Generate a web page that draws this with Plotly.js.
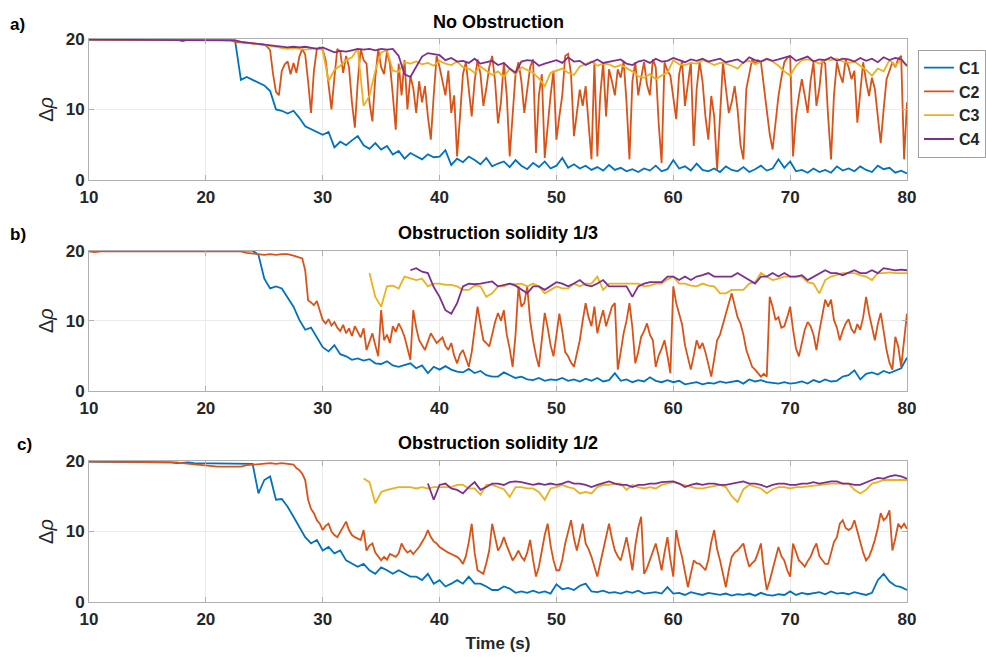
<!DOCTYPE html>
<html>
<head>
<meta charset="utf-8">
<script src="https://cdn.plot.ly/plotly-3.0.1.min.js"></script>
<style>html,body{margin:0;padding:0;background:#fff;}#chart{width:986px;height:657px;}</style>
</head>
<body>
<div id="chart"></div>
<script>
// ---------- DATA ----------
const seriesNames = ["C1", "C2", "C3", "C4"];
const panelTitles = ["No Obstruction", "Obstruction solidity 1/3", "Obstruction solidity 1/2"];
const panelLetters = ["a)", "b)", "c)"];
const coarseStep = 0.5;   // s, sampling of C1, C3, C4 and of the calm start of C2
const fineStep = 0.25;    // s, sampling of the fluctuating part of C2

// ===== Panel a) No Obstruction =====
const aStart = [10, 10, 10, 10];
const aC1 = [
19.9,19.9,19.8,19.9,19.9,19.9,19.8,19.9,19.9,19.9,
19.8,19.9,19.9,19.8,19.9,19.9,19.7,19.9,19.9,19.9,
19.9,19.8,19.9,19.8,19.9,19.8,14.2,14.6,14.2,13.8,
13.4,12.6,10.0,9.8,9.4,9.8,8.8,7.6,7.2,6.8,
6.4,6.8,4.6,5.4,4.9,5.6,6.2,4.9,4.4,5.2,
4.3,4.8,3.6,4.1,3.0,3.8,3.4,2.9,3.6,3.2,
3.3,4.2,2.1,3.0,2.5,3.3,2.8,2.2,3.1,1.9,
2.3,2.6,1.8,2.8,2.0,1.5,2.4,1.8,2.6,1.6,
2.0,3.1,1.7,2.2,1.6,2.0,1.4,1.8,1.3,2.1,
1.4,1.7,1.2,1.5,1.1,1.6,1.3,2.0,1.2,1.5,
2.8,1.6,1.9,1.3,2.3,1.4,1.2,1.6,1.1,1.9,
1.4,1.2,1.8,1.1,1.5,2.0,1.3,1.6,2.9,1.7,
2.6,1.2,1.4,1.0,1.6,1.1,1.4,1.0,1.9,1.3,
1.6,1.2,1.9,1.4,1.1,2.0,1.5,1.7,1.0,1.3,
0.9];
// C2: calm part 10–25 s every 0.5 s, then 25.25–80 s every 0.25 s
const aC2calm = [
19.9,19.9,19.9,19.8,19.9,19.9,19.9,19.9,19.8,19.9,
19.9,19.9,19.8,19.9,19.9,19.9,19.9,19.8,19.9,19.9,
19.9,19.9,19.9,19.8,19.9,19.6,19.5,19.5,19.4,19.3,
19.2];
const aC2fine = [
18.9,18.4,15.0,12.5,12.0,15.5,16.4,16.8,15.0,16.6,15.2,17.5,18.6,17.8,14.0,9.5,15.5,18.6,18.8,18.5,
17.0,13.0,10.0,14.5,18.6,18.2,15.2,17.6,16.0,11.0,7.4,14.0,18.6,17.0,16.5,11.0,8.3,14.5,18.6,16.0,
15.0,18.2,16.5,12.0,7.1,16.5,12.0,17.0,10.0,14.8,13.0,9.5,14.0,11.0,13.3,9.0,5.7,12.0,17.6,16.0,
14.0,12.0,15.5,9.5,12.0,3.3,9.0,15.0,16.7,12.5,9.0,14.0,17.1,15.0,10.5,13.0,16.0,17.6,14.0,8.0,
11.0,16.7,12.0,3.3,9.0,15.0,16.7,14.0,9.5,13.0,16.0,17.1,3.8,12.0,15.0,3.1,8.0,12.0,15.5,5.7,
9.0,12.0,17.6,17.9,15.0,6.2,9.5,12.8,10.5,13.3,8.0,2.9,16.7,3.3,12.0,16.7,9.0,15.7,14.0,12.0,
15.7,14.5,16.9,11.0,2.9,14.0,16.7,12.0,14.5,16.7,13.5,12.0,17.1,16.0,8.0,2.4,16.7,15.5,14.8,12.0,
8.6,15.0,16.9,10.5,14.0,16.7,4.8,12.9,16.7,14.0,9.0,5.7,11.9,9.0,1.4,9.0,16.7,13.0,9.5,11.0,
13.3,10.0,5.0,2.9,12.9,15.0,17.1,16.5,17.0,16.7,13.0,9.5,6.5,4.3,8.0,11.9,14.5,16.7,17.3,17.6,
3.3,9.0,11.9,14.3,12.0,9.5,14.0,16.7,10.5,13.0,17.1,16.5,9.0,2.9,12.0,16.7,15.0,13.8,17.1,16.0,
14.3,15.5,8.1,12.0,16.7,14.0,11.9,14.5,12.9,9.0,5.2,10.0,14.3,15.5,16.7,16.0,17.2,17.6,2.9,11.0];
const aC3 = [
19.9,19.9,19.9,19.9,19.9,19.9,19.9,19.9,19.9,19.9,
19.9,19.9,19.9,19.9,19.9,19.9,19.9,19.9,19.9,19.9,
19.9,19.9,19.9,19.9,19.9,19.8,19.6,19.5,19.4,19.3,
19.2,19.0,18.9,18.7,18.6,18.7,18.6,18.5,18.6,18.7,
18.4,14.0,15.6,16.2,17.0,17.4,18.6,10.5,11.9,15.5,
18.1,18.4,15.5,15.3,16.7,16.5,16.8,16.4,16.6,16.2,
16.9,16.5,16.3,16.8,16.0,15.8,15.2,16.1,15.5,14.9,
15.4,14.6,15.8,15.0,16.0,15.6,15.2,14.4,13.3,15.2,
15.5,15.8,15.2,14.9,16.1,16.5,16.8,16.2,16.5,16.4,
16.0,16.3,15.8,15.4,14.7,14.5,15.0,14.3,14.8,15.2,
17.0,16.4,16.3,16.6,16.5,17.0,16.7,16.3,16.6,16.5,
16.2,15.8,16.7,16.9,16.4,16.8,17.1,16.8,16.2,15.4,
14.8,16.2,17.0,17.1,16.9,16.5,17.1,17.0,17.2,16.8,
16.6,16.8,16.2,15.6,14.8,15.8,15.4,17.0,16.2,17.1,
16.1];
const aC4 = [
19.9,19.9,19.9,19.9,19.9,19.9,19.9,19.9,19.9,19.9,
19.9,19.9,19.9,19.8,19.9,19.9,19.9,19.9,19.9,19.9,
19.9,19.9,19.9,19.9,19.9,19.8,19.6,19.5,19.4,19.4,
19.3,19.2,19.1,19.0,18.8,18.9,18.8,18.9,18.7,18.6,
18.8,18.5,18.1,18.3,18.2,18.4,18.6,18.5,18.6,18.4,
18.6,18.5,18.6,17.6,15.0,14.6,16.0,17.5,18.0,17.8,
17.7,17.0,17.3,16.8,16.9,16.6,17.2,16.5,16.7,16.9,
16.3,16.6,15.8,15.2,16.8,17.0,16.9,16.2,16.5,16.8,
17.0,16.6,17.4,16.8,16.9,16.3,16.7,17.1,16.6,16.8,
16.9,17.1,16.5,16.3,16.8,17.0,16.6,17.2,16.8,16.9,
17.3,17.0,16.7,17.1,16.9,17.2,16.8,17.0,17.2,16.7,
16.9,17.1,16.6,17.4,17.0,16.8,17.2,16.9,17.1,17.3,
17.6,16.9,17.2,17.5,16.8,17.1,17.0,17.4,16.9,17.2,
17.1,16.8,17.3,16.9,17.2,16.7,17.4,17.0,17.3,17.1,
16.2];

// ===== Panel b) Obstruction solidity 1/3 =====
const bStart = [10, 10, 34, 37.5];
const bC1 = [
20.0,20.0,20.0,20.0,20.1,20.0,20.0,20.0,20.1,20.0,
20.0,20.0,20.1,20.0,20.0,20.0,20.1,20.0,20.0,20.0,
20.0,20.1,20.0,20.0,20.0,20.1,20.0,20.0,20.0,19.4,
16.0,14.6,14.9,14.6,13.2,12.0,10.1,8.7,9.0,7.6,
6.2,5.6,6.5,5.2,4.9,4.4,4.6,4.3,4.5,3.9,
3.8,4.2,3.6,3.4,3.7,3.9,3.2,3.6,2.5,3.4,
3.0,3.5,3.0,2.7,2.6,3.1,2.5,2.8,2.2,2.0,
2.0,2.6,2.2,1.8,2.0,1.6,1.5,1.8,1.4,1.6,
1.5,1.8,1.4,1.6,1.3,1.7,1.4,1.8,1.3,1.5,
2.5,1.4,1.6,1.2,1.5,1.3,1.9,1.4,1.2,1.5,
1.2,1.4,0.9,1.0,1.2,0.9,1.1,1.0,1.3,1.1,
1.2,1.4,1.0,1.6,1.3,1.5,1.2,1.1,1.0,1.2,
1.0,1.1,1.3,1.0,1.5,1.2,1.6,1.3,1.4,2.0,
2.2,2.9,1.6,2.4,2.6,2.3,2.8,2.5,2.9,3.2,
4.7];
// C2: calm part 10–28 s every 0.5 s, then 28.25–80 s every 0.25 s
const bC2calm = [
19.9,19.8,19.9,19.9,19.8,19.9,19.9,19.8,19.9,19.9,
19.8,19.9,19.9,19.8,19.9,19.9,19.8,19.9,19.9,19.8,
19.9,19.9,19.8,19.9,19.9,19.8,19.9,19.7,19.6,19.5,
19.4,19.5,19.4,19.5,19.5,19.3,19.0];
const bC2fine = [
18.9,17.2,12.9,12.6,12.2,12.8,11.5,10.1,
9.6,10.2,9.3,9.8,9.0,8.5,9.4,8.2,8.9,7.8,9.2,8.4,7.6,8.9,5.8,7.0,8.2,6.5,4.9,11.5,
7.2,8.0,6.8,9.2,8.4,9.6,8.8,7.7,6.0,4.4,11.5,9.0,7.2,6.5,5.8,7.0,8.2,7.5,6.8,7.2,
7.6,6.4,5.8,6.8,5.0,3.9,5.2,5.8,4.6,3.4,5.5,9.0,12.0,9.5,7.2,6.8,6.3,8.0,9.8,11.1,
10.0,11.5,8.0,6.0,3.4,8.0,14.9,12.0,12.5,14.9,10.0,7.2,5.0,3.4,7.0,11.1,9.0,6.5,4.9,8.0,
11.0,8.5,5.5,4.9,4.0,3.4,5.5,7.2,10.0,12.5,10.5,9.2,12.0,8.2,10.0,11.5,9.2,10.5,12.0,12.5,
3.0,5.5,8.2,10.0,12.5,9.0,3.9,5.5,7.7,8.5,9.6,8.0,7.2,3.4,5.0,6.0,7.2,5.0,2.5,14.9,
12.5,11.0,9.5,6.5,4.9,3.0,5.0,7.2,6.0,6.8,5.5,3.5,2.0,4.5,7.2,8.0,9.6,11.0,12.5,13.9,
12.0,10.5,9.6,8.0,5.8,4.5,3.4,3.0,2.5,2.0,2.4,2.0,13.4,12.0,10.1,10.5,9.0,9.2,10.5,12.0,
8.7,6.0,4.9,7.0,8.7,9.8,9.2,8.0,5.8,8.5,11.0,13.0,12.0,13.0,10.1,9.0,7.2,8.6,9.6,10.2,
8.8,8.2,9.5,8.7,10.5,13.4,11.0,9.0,7.2,9.5,11.1,8.5,5.8,4.0,3.0,7.7,6.3,3.4,7.5,11.0];
const bC3 = [
16.8,13.4,
12.0,14.9,15.0,14.6,16.3,16.0,15.8,16.0,14.9,15.3,
15.3,15.1,15.1,14.9,14.4,14.4,15.0,14.9,13.4,13.9,
14.9,14.9,15.3,15.2,15.3,14.9,15.3,14.9,13.9,14.4,
14.9,14.6,14.6,15.3,14.9,15.3,15.3,16.3,14.4,15.3,
15.3,15.3,15.3,15.3,15.3,14.9,15.0,15.3,15.3,15.9,
16.3,15.3,15.3,15.0,14.9,15.3,15.0,14.9,13.9,13.9,
14.4,14.4,14.4,15.3,15.5,16.8,16.3,15.8,16.0,16.3,
16.3,16.3,16.3,15.5,15.3,13.9,15.8,16.3,16.5,16.8,
16.8,16.8,16.5,16.3,15.8,16.8,16.8,16.9,16.8,16.8,
16.8];
const bC4 = [
17.2,17.5,17.0,16.8,14.8,
13.4,11.5,11.0,12.5,14.9,15.3,15.2,15.3,15.4,15.6,
14.9,15.1,15.3,15.0,14.4,13.9,14.9,14.9,14.4,14.9,
15.5,15.3,14.9,15.3,15.8,15.1,14.9,15.3,15.8,14.9,
14.9,14.9,14.9,13.4,14.9,15.3,15.5,15.5,15.5,16.3,
16.3,15.8,16.3,15.8,16.3,16.5,16.8,16.3,16.3,16.3,
16.3,16.8,16.3,15.8,15.3,16.3,16.3,16.8,16.3,16.8,
16.3,16.3,16.5,15.8,16.3,16.8,17.2,16.8,16.8,16.5,
16.8,17.2,16.8,16.8,17.2,16.8,17.5,17.3,17.2,17.3,
17.2];

// ===== Panel c) Obstruction solidity 1/2 =====
const cStart = [10, 10, 33.5, 39];
const cC1 = [
19.9,19.9,19.9,19.8,19.9,19.9,19.8,19.8,19.9,19.8,
19.8,19.8,19.8,19.8,19.8,19.7,19.8,19.8,19.7,19.7,
19.7,19.6,19.6,19.6,19.6,19.6,19.6,19.6,19.6,15.4,
17.3,17.8,14.5,14.6,13.5,12.1,10.7,9.2,8.3,8.8,
7.3,7.8,6.9,7.3,5.9,5.4,5.0,5.4,4.5,4.0,
4.9,4.5,4.0,4.5,4.0,3.6,3.6,3.1,4.0,2.6,
3.1,2.2,2.6,3.1,2.6,3.6,2.6,2.6,2.2,1.7,
1.7,2.2,1.9,1.3,1.5,1.3,1.6,1.3,1.5,1.2,
2.5,1.8,2.0,1.7,2.3,2.6,1.5,1.4,1.6,1.3,
1.4,1.2,1.5,1.3,1.6,1.2,1.3,1.4,1.2,2.1,
1.2,1.3,1.0,1.4,1.2,1.0,1.3,1.1,1.0,1.2,
0.9,1.1,1.0,1.2,0.9,1.3,1.0,0.9,1.1,1.0,
1.5,1.0,1.3,1.1,1.2,1.4,1.1,1.5,1.2,1.3,
1.1,1.4,1.2,1.0,1.3,3.1,4.0,2.9,2.3,2.1,
1.7];
// C2: calm part 10–27.5 s every 0.5 s, then 27.75–80 s every 0.25 s
const cC2calm = [
19.9,19.9,19.9,19.9,19.8,19.9,19.9,19.8,19.9,19.9,
19.8,19.9,19.8,19.8,19.8,19.8,19.7,19.6,19.5,19.5,
19.3,19.3,19.2,19.2,19.2,19.3,19.2,19.4,19.5,19.6,
19.7,19.7,19.6,19.7,19.6,19.5];
const cC2fine = [
19.0,18.7,18.2,17.3,14.5,13.2,12.6,11.6,11.1,10.2,
10.8,11.1,10.0,9.5,9.2,10.0,10.7,11.4,10.2,9.5,9.2,9.0,8.8,10.2,7.3,8.0,8.3,7.0,6.5,5.9,
6.4,6.0,6.8,6.6,6.4,6.9,8.3,7.5,7.0,7.3,6.8,7.3,7.8,8.5,9.2,10.2,9.2,8.6,8.3,7.8,
7.5,7.3,7.0,6.8,6.6,6.4,6.0,5.4,6.5,8.5,11.1,7.0,4.5,4.2,4.0,5.5,7.3,11.1,9.0,7.3,
8.0,9.2,8.0,7.0,5.9,6.5,7.3,6.4,5.9,7.0,8.8,6.0,3.6,5.0,7.3,9.5,11.1,8.0,5.9,4.5,
4.5,6.0,8.3,10.0,11.6,9.0,7.3,9.2,11.1,8.3,7.5,6.4,5.0,3.6,5.5,7.3,9.0,11.1,9.0,7.3,
6.5,5.9,7.5,9.2,7.0,4.5,8.0,10.5,12.1,4.0,4.8,5.9,7.0,8.3,6.5,4.5,7.0,9.2,6.0,3.6,
10.2,8.0,6.4,4.0,2.1,4.0,5.9,5.5,5.4,5.0,4.5,6.0,8.5,10.2,7.5,5.9,4.0,2.1,4.5,6.4,
7.0,7.3,7.8,8.3,6.5,5.0,5.5,5.9,7.0,8.3,4.5,1.7,3.0,4.5,6.0,7.8,6.5,5.9,4.5,3.6,
8.3,7.0,5.9,5.5,5.0,5.8,6.4,7.5,8.3,6.5,5.9,5.4,5.4,7.0,8.5,9.2,11.1,11.6,10.5,10.2,
10.5,11.6,10.0,8.8,7.0,5.9,6.4,7.5,8.8,10.5,12.6,11.6,12.0,13.0,7.3,9.0,11.1,10.5,11.1,10.4];
const cC3 = [
17.5,17.0,14.0,
15.6,15.9,16.1,16.3,16.3,16.3,16.1,16.3,16.1,16.3,
16.3,16.3,16.3,16.6,16.6,16.1,16.1,15.2,16.6,16.6,
16.3,16.0,14.9,16.3,16.3,16.1,16.1,15.6,14.5,16.1,
16.3,16.6,16.3,16.1,15.4,15.6,15.4,16.3,16.6,16.6,
16.8,16.8,15.9,16.6,16.3,16.1,16.3,16.1,16.6,16.8,
17.0,16.8,16.6,16.3,16.1,16.1,16.3,16.4,16.6,16.3,
15.0,14.2,16.0,16.6,16.3,16.1,15.4,16.0,16.3,16.3,
16.1,16.3,16.3,16.4,16.6,16.6,16.8,16.8,16.8,16.8,
16.8,15.9,15.4,15.9,16.8,17.0,17.3,17.3,17.3,17.4,
17.3];
const cC4 = [
16.8,14.5,
16.6,16.8,16.1,15.9,15.4,16.3,17.0,15.9,16.3,16.8,
16.8,16.6,17.0,17.1,17.0,16.8,16.6,16.8,16.6,16.8,
16.6,16.8,17.1,16.8,16.8,16.6,16.3,16.6,16.8,17.1,
16.8,16.6,16.6,16.3,16.6,16.6,16.8,16.8,17.0,17.1,
17.1,16.8,16.3,16.6,16.8,16.6,16.8,16.8,16.6,16.6,
16.8,17.0,17.1,16.8,16.8,16.6,16.3,16.6,16.8,16.8,
16.6,16.6,16.8,16.8,17.0,16.8,17.0,17.1,17.1,16.8,
16.8,16.6,16.6,17.0,17.3,17.6,17.5,17.8,18.0,17.8,
17.5];

const xTicks = [10, 20, 30, 40, 50, 60, 70, 80];
const yTicks = [0, 10, 20];
const xAxisLabel = "Time (s)";
const yAxisLabel = "Δ<i>ρ</i>";

// ---------- helpers ----------
function coarseSeries(t0, vals) {
  return {x: vals.map((_, i) => t0 + i * coarseStep), y: vals};
}
function twoRateSeries(calm, fine) {
  const xc = calm.map((_, i) => 10 + i * coarseStep);
  const tEnd = xc[xc.length - 1];
  const xf = fine.map((_, i) => tEnd + (i + 1) * fineStep);
  return {x: xc.concat(xf), y: calm.concat(fine)};
}

// ---------- STYLE ----------
const colors = ["#0072BD", "#D95319", "#EDB120", "#7E2F8E"];
const FONT = "Liberation Sans, Arial, sans-serif";

const panels = [
  [coarseSeries(aStart[0], aC1), twoRateSeries(aC2calm, aC2fine), coarseSeries(aStart[2], aC3), coarseSeries(aStart[3], aC4)],
  [coarseSeries(bStart[0], bC1), twoRateSeries(bC2calm, bC2fine), coarseSeries(bStart[2], bC3), coarseSeries(bStart[3], bC4)],
  [coarseSeries(cStart[0], cC1), twoRateSeries(cC2calm, cC2fine), coarseSeries(cStart[2], cC3), coarseSeries(cStart[3], cC4)]
];

const traces = [];
panels.forEach((p, pi) => {
  p.forEach((s, si) => {
    traces.push({
      type: "scatter", mode: "lines",
      x: s.x, y: s.y,
      name: seriesNames[si],
      legendgroup: seriesNames[si],
      showlegend: pi === 0,
      line: {color: colors[si], width: 1.8},
      xaxis: pi === 0 ? "x" : "x" + (pi + 1),
      yaxis: pi === 0 ? "y" : "y" + (pi + 1),
      hoverinfo: "skip"
    });
  });
});

const domains = [[0.75, 1], [0.3755, 0.624], [0, 0.2505]];
const layout = {
  width: 986, height: 657,
  margin: {l: 89, r: 79, t: 39, b: 55},
  paper_bgcolor: "#ffffff", plot_bgcolor: "#ffffff",
  font: {family: FONT, color: "#262626"},
  showlegend: true,
  legend: {
    xref: "container", x: 0.931, xanchor: "left",
    yref: "paper", y: 0.981, yanchor: "top",
    bordercolor: "#a0a0a0", borderwidth: 1, bgcolor: "#ffffff",
    font: {family: FONT, size: 16, weight: "bold", color: "#262626"},
    tracegroupgap: 0
  },
  annotations: []
};

const titleY = [1.030, 0.655, 0.282];
const letterY = [1.025, 0.652, 0.279];
const letterX = [-0.099, -0.099, -0.091];

for (let i = 0; i < 3; i++) {
  const sx = i === 0 ? "xaxis" : "xaxis" + (i + 1);
  const sy = i === 0 ? "yaxis" : "yaxis" + (i + 1);
  const anchorY = i === 0 ? "y" : "y" + (i + 1);
  const anchorX = i === 0 ? "x" : "x" + (i + 1);
  layout[sx] = {
    domain: [0, 1], anchor: anchorY, range: [10, 80],
    tickvals: xTicks, ticks: "inside", ticklen: 5, tickcolor: "#b0b0b0",
    showline: true, linecolor: "#b0b0b0", linewidth: 1, mirror: "ticks",
    showgrid: true, gridcolor: "#ebebeb", gridwidth: 1, zeroline: false,
    tickfont: {family: FONT, size: 17, weight: "bold", color: "#262626"},
    ticklabelstandoff: 2,
    fixedrange: true
  };
  layout[sy] = {
    domain: domains[i], anchor: anchorX, range: [0, 20],
    tickvals: yTicks, ticks: "inside", ticklen: 5, tickcolor: "#b0b0b0",
    showline: true, linecolor: "#b0b0b0", linewidth: 1, mirror: "ticks",
    showgrid: true, gridcolor: "#ebebeb", gridwidth: 1, zeroline: false,
    tickfont: {family: FONT, size: 17, weight: "bold", color: "#262626"},
    title: {text: yAxisLabel, font: {family: FONT, size: 20, color: "#262626"}, standoff: 6},
    fixedrange: true
  };
  layout.annotations.push({
    text: panelTitles[i], xref: "paper", yref: "paper", x: 0.5, y: titleY[i],
    xanchor: "center", yanchor: "middle", showarrow: false,
    font: {family: FONT, size: 18, weight: "bold", color: "#000000"}
  });
  layout.annotations.push({
    text: panelLetters[i], xref: "paper", yref: "paper", x: letterX[i], y: letterY[i],
    xanchor: "left", yanchor: "middle", showarrow: false,
    font: {family: FONT, size: 17, weight: "bold", color: "#000000"}
  });
}
layout.xaxis3.title = {text: xAxisLabel, font: {family: FONT, size: 17, weight: "bold", color: "#262626"}, standoff: 8};

Plotly.newPlot("chart", traces, layout, {displayModeBar: false, staticPlot: true});
</script>
</body>
</html>
